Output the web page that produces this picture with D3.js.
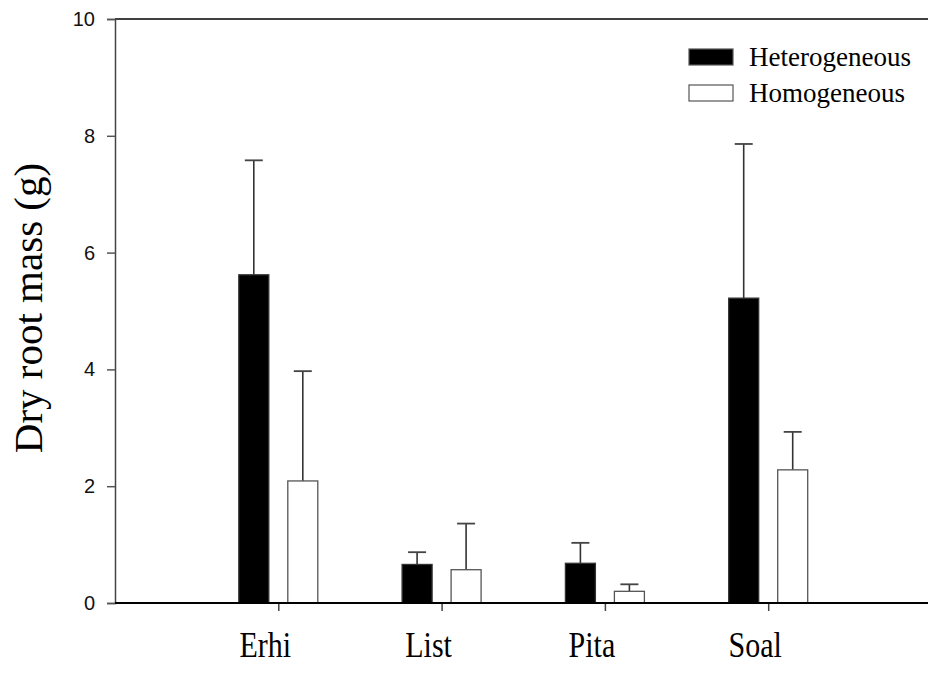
<!DOCTYPE html>
<html>
<head>
<meta charset="utf-8">
<script src="https://cdn.jsdelivr.net/npm/d3@7"></script>
<style>
  html, body { margin: 0; padding: 0; background: #fff; }
  svg { display: block; }
</style>
</head>
<body>
<svg id="chart" width="928" height="691"></svg>
<script>
// Species and treatment series
const species = ["Erhi", "List", "Pita", "Soal"];
const heteroMean = [5.62, 0.66, 0.68, 5.22];
const heteroErr  = [1.96, 0.21, 0.35, 2.64];
const homoMean   = [2.09, 0.57, 0.20, 2.28];
const homoErr    = [1.88, 0.79, 0.12, 0.65];
const yTicks = [0, 2, 4, 6, 8, 10];
const seriesNames = ["Heterogeneous", "Homogeneous"];

const svg = d3.select("#chart");

// Linear category position (1..4) so the axis runs on to the right edge
const x = d3.scaleLinear().domain([0, 5]).range([115, 931.5]);
const y = d3.scaleLinear().domain([0, 10]).range([603, 19]);

const barW = 30, offset = 24.5, capW = 18;
const serif = "'Liberation Serif', 'Times New Roman', serif";
const sans = "'Liberation Sans', Arial, sans-serif";

// Frame: top rule, y axis
svg.append("line").attr("x1", 115).attr("x2", 928).attr("y1", y(10)).attr("y2", y(10))
  .attr("stroke", "#000").attr("stroke-width", 1.3);

const yAxis = d3.axisLeft(y).tickValues(yTicks).tickSize(8).tickPadding(12).tickFormat(d3.format("d"));
const gy = svg.append("g").attr("transform", "translate(115,0)").call(yAxis);
gy.select(".domain").attr("stroke", "#444").attr("stroke-width", 1.5);
gy.selectAll(".tick line").attr("stroke", "#555").attr("stroke-width", 1.5);
gy.selectAll(".tick text").attr("font-family", sans).attr("font-size", 20).attr("fill", "#111");

// Bars and error bars
const rows = species.map((s, i) => ({
  s, i,
  vals: [
    { k: 0, m: heteroMean[i], e: heteroErr[i] },
    { k: 1, m: homoMean[i], e: homoErr[i] }
  ]
}));

const groups = svg.append("g").selectAll("g").data(rows).join("g");
groups.each(function(r) {
  const g = d3.select(this);
  r.vals.forEach(v => {
    const cx = x(r.i + 1) + (v.k === 0 ? -offset : offset);
    // error whisker (upward only)
    g.append("line").attr("x1", cx).attr("x2", cx)
      .attr("y1", y(v.m)).attr("y2", y(v.m + v.e))
      .attr("stroke", "#333").attr("stroke-width", 1.6);
    g.append("line").attr("x1", cx - capW / 2).attr("x2", cx + capW / 2)
      .attr("y1", y(v.m + v.e)).attr("y2", y(v.m + v.e))
      .attr("stroke", "#444").attr("stroke-width", 1.8);
    g.append("rect")
      .attr("x", cx - barW / 2).attr("width", barW)
      .attr("y", y(v.m)).attr("height", y(0) - y(v.m))
      .attr("fill", v.k === 0 ? "#000" : "#fff")
      .attr("stroke", v.k === 0 ? "#333" : "#555").attr("stroke-width", 1.3);
  });
});

// X axis
const xAxis = d3.axisBottom(x).tickValues([1, 2, 3, 4]).tickSize(8).tickFormat("");
const gx = svg.append("g").attr("transform", `translate(0,${y(0)})`).call(xAxis);
gx.select(".domain").remove();
gx.selectAll(".tick line").attr("stroke", "#444").attr("stroke-width", 1.5);
svg.append("line").attr("x1", 115).attr("x2", 928).attr("y1", y(0)).attr("y2", y(0))
  .attr("stroke", "#000").attr("stroke-width", 2.2);

// Category labels
svg.append("g").selectAll("text").data(species).join("text")
  .attr("transform", (d, i) => `translate(${x(i + 1) - 13},657) scale(1,1.2)`)
  .attr("text-anchor", "middle")
  .attr("font-family", serif).attr("font-size", 30).attr("fill", "#000")
  .text(d => d);

// Y axis title
svg.append("text")
  .attr("transform", "translate(42,308) rotate(-90)")
  .attr("text-anchor", "middle")
  .attr("font-family", serif).attr("font-size", 41).attr("fill", "#000")
  .text("Dry root mass (g)");

// Legend
const legend = svg.append("g").selectAll("g").data(seriesNames).join("g")
  .attr("transform", (d, i) => `translate(689,${49 + i * 36})`);
legend.append("rect").attr("width", 44).attr("height", 16)
  .attr("fill", (d, i) => i === 0 ? "#000" : "#fff")
  .attr("stroke", "#555").attr("stroke-width", 1.2);
legend.append("text").attr("x", 60).attr("y", 17)
  .attr("font-family", serif).attr("font-size", 27).attr("fill", "#000")
  .text(d => d);
</script>
</body>
</html>
